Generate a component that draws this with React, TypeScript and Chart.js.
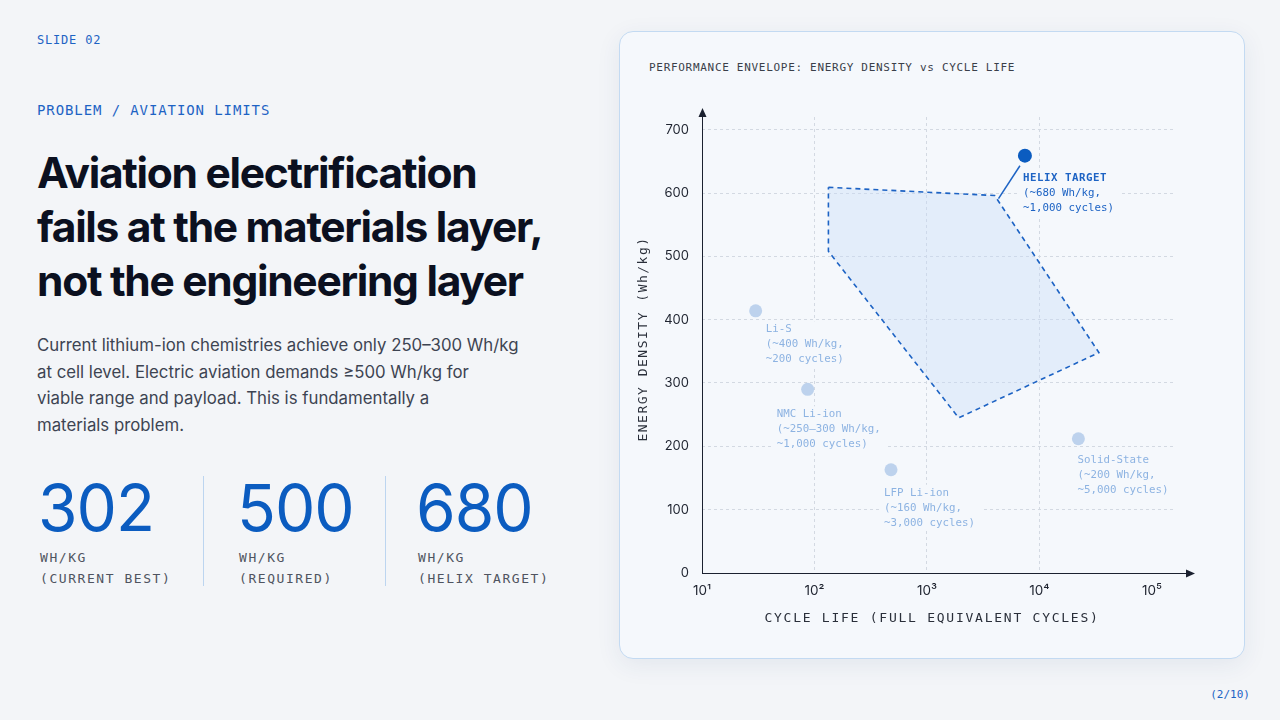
import React, { useEffect, useRef } from 'react';
import { Chart, registerables } from 'chart.js';

Chart.register(...registerables);

// ---------- data ----------
const chemistries = ['Li-S', 'NMC Li-ion', 'LFP Li-ion', 'Solid-State'];
const chemCycles = [30, 87, 479, 22200];
const chemDensity = [414, 290, 163, 212];
const chemNotes = [
  ['(~400 Wh/kg,', '~200 cycles)'],
  ['(~250–300 Wh/kg,', '~1,000 cycles)'],
  ['(~160 Wh/kg,', '~3,000 cycles)'],
  ['(~200 Wh/kg,', '~5,000 cycles)'],
];

const helixName = 'HELIX TARGET';
const helixCycles = [7430];
const helixDensity = [659];
const helixNotes = ['(~680 Wh/kg,', '~1,000 cycles)'];

const envelopeCycles = [133, 4000, 33800, 1914, 133, 133];
const envelopeDensity = [609, 596, 348, 245, 508, 609];

const leaderCycles = [6710, 4325];
const leaderDensity = [643, 591];

const xTickValues = [10, 100, 1000, 10000, 100000];
const xTickLabels = ['10¹', '10²', '10³', '10⁴', '10⁵'];
const yTickValues = [0, 100, 200, 300, 400, 500, 600, 700];

const stats = ['302', '500', '680'];
const statUnits = ['WH/KG', 'WH/KG', 'WH/KG'];
const statNotes = ['(CURRENT BEST)', '(REQUIRED)', '(HELIX TARGET)'];

const bodyLines = [
  'Current lithium-ion chemistries achieve only 250–300 Wh/kg',
  'at cell level. Electric aviation demands ≥500 Wh/kg for',
  'viable range and payload. This is fundamentally a',
  'materials problem.',
];

// ---------- styling ----------
const MONO = '"DejaVu Sans Mono", monospace';
const SANS = 'Inter, "Noto Sans", sans-serif';
const BLUE = '#0b5cc0';
const ACCENT = '#1d63c4';
const CARD_BG = '#f5f8fc';
const PAGE_BG = '#f3f5f8';
const FAINT = '#8db3e2';

// label offsets relative to each point (pixels)
const labelDx = [10, -31, -7, -1];
const labelDy = [18.5, 25, 23, 21.5];
const helixDx = -2;
const helixDy = 23;
const LINE_H = 15;

const overlayPlugin = {
  id: 'overlay',
  beforeDatasetsDraw(chart: any) {
    const ctx = chart.ctx;
    const xs = chart.scales.x;
    const ys = chart.scales.y;
    ctx.save();
    ctx.font = `10.8px ${MONO}`;
    ctx.fillStyle = CARD_BG;
    const boxes: Array<[number, number, string[]]> = [];
    chemistries.forEach((name, i) => {
      const px = xs.getPixelForValue(chemCycles[i]);
      const py = ys.getPixelForValue(chemDensity[i]);
      boxes.push([px + labelDx[i], py + labelDy[i], [name, ...chemNotes[i]]]);
    });
    const hx = xs.getPixelForValue(helixCycles[0]);
    const hy = ys.getPixelForValue(helixDensity[0]);
    boxes.push([hx + helixDx, hy + helixDy, [helixName, ...helixNotes]]);
    boxes.forEach(([x, y, lines]) => {
      const w = Math.max(...lines.map((l) => ctx.measureText(l).width));
      ctx.fillRect(x - 4, y - 8, w + 10, LINE_H * (lines.length - 1) + 16);
    });
    ctx.restore();
  },
  afterDatasetsDraw(chart: any) {
    const ctx = chart.ctx;
    const area = chart.chartArea;
    const xs = chart.scales.x;
    const ys = chart.scales.y;
    const ox = xs.getPixelForValue(10);
    const oy = ys.getPixelForValue(0);
    ctx.save();
    // axes
    ctx.strokeStyle = '#1b2130';
    ctx.fillStyle = '#1b2130';
    ctx.lineWidth = 1;
    const xEnd = area.right + 22;
    const yEnd = area.top - 9;
    ctx.beginPath();
    ctx.moveTo(ox, oy + 0.5);
    ctx.lineTo(xEnd - 6, oy + 0.5);
    ctx.moveTo(ox + 0.5, oy);
    ctx.lineTo(ox + 0.5, yEnd + 6);
    ctx.stroke();
    ctx.beginPath();
    ctx.moveTo(xEnd, oy + 0.5);
    ctx.lineTo(xEnd - 9, oy - 3.5);
    ctx.lineTo(xEnd - 9, oy + 4.5);
    ctx.closePath();
    ctx.fill();
    ctx.beginPath();
    ctx.moveTo(ox + 0.5, yEnd);
    ctx.lineTo(ox - 3.5, yEnd + 9);
    ctx.lineTo(ox + 4.5, yEnd + 9);
    ctx.closePath();
    ctx.fill();

    // point labels
    ctx.textAlign = 'left';
    ctx.textBaseline = 'middle';
    ctx.font = `10.8px ${MONO}`;
    ctx.fillStyle = FAINT;
    chemistries.forEach((name, i) => {
      const px = xs.getPixelForValue(chemCycles[i]);
      const py = ys.getPixelForValue(chemDensity[i]);
      [name, ...chemNotes[i]].forEach((line, k) => {
        ctx.fillText(line, px + labelDx[i], py + labelDy[i] + k * LINE_H);
      });
    });
    const hx = xs.getPixelForValue(helixCycles[0]);
    const hy = ys.getPixelForValue(helixDensity[0]);
    ctx.fillStyle = ACCENT;
    ctx.font = `bold 10.8px ${MONO}`;
    (ctx as any).letterSpacing = '0.5px';
    ctx.fillText(helixName, hx + helixDx, hy + helixDy);
    (ctx as any).letterSpacing = '0px';
    ctx.font = `10.8px ${MONO}`;
    helixNotes.forEach((line, k) => {
      ctx.fillText(line, hx + helixDx, hy + helixDy + (k + 1) * LINE_H);
    });

    // axis titles
    ctx.fillStyle = '#2a2f3a';
    ctx.font = `13px ${MONO}`;
    (ctx as any).letterSpacing = '1.75px';
    ctx.textAlign = 'center';
    ctx.fillText('CYCLE LIFE (FULL EQUIVALENT CYCLES)', chart.width / 2, 587);
    (ctx as any).letterSpacing = '1.5px';
    ctx.translate(24, (area.top + area.bottom) / 2 - 6);
    ctx.rotate(-Math.PI / 2);
    ctx.fillText('ENERGY DENSITY (Wh/kg)', 0, 0);
    ctx.restore();
  },
};

function ChartCard() {
  const ref = useRef<HTMLCanvasElement>(null);
  useEffect(() => {
    const canvas = ref.current;
    if (!canvas) return;
    const gridColor = '#d3d9e2';
    const chart = new Chart(canvas, {
      type: 'scatter',
      data: {
        datasets: [
          {
            label: 'Envelope',
            data: envelopeCycles.map((c, i) => ({ x: c, y: envelopeDensity[i] })),
            showLine: true,
            fill: 'shape',
            backgroundColor: 'rgba(196, 218, 246, 0.38)',
            borderColor: '#1d63c4',
            borderWidth: 1.6,
            borderDash: [5, 4],
            pointRadius: 0,
            tension: 0,
          } as any,
          {
            label: 'Leader',
            data: leaderCycles.map((c, i) => ({ x: c, y: leaderDensity[i] })),
            showLine: true,
            borderColor: '#1d63c4',
            borderWidth: 1.5,
            pointRadius: 0,
          } as any,
          {
            label: 'Chemistries',
            data: chemCycles.map((c, i) => ({ x: c, y: chemDensity[i] })),
            backgroundColor: 'rgba(170, 198, 232, 0.75)',
            borderWidth: 0,
            pointRadius: 6.5,
          },
          {
            label: 'Helix',
            data: helixCycles.map((c, i) => ({ x: c, y: helixDensity[i] })),
            backgroundColor: BLUE,
            borderWidth: 0,
            pointRadius: 7,
          },
        ],
      },
      options: {
        responsive: false,
        animation: false,
        events: [],
        layout: { padding: { left: 12, right: 71, top: 85, bottom: 55 } },
        plugins: {
          legend: { display: false },
          tooltip: { enabled: false },
        },
        scales: {
          x: {
            type: 'logarithmic',
            min: 10,
            max: 154000,
            afterBuildTicks: (scale: any) => {
              scale.ticks = xTickValues.map((v) => ({ value: v }));
            },
            afterFit: (scale: any) => {
              scale.height = 30;
            },
            ticks: {
              autoSkip: false,
              maxRotation: 0,
              padding: 10,
              color: '#1f2430',
              font: { family: 'Inter', size: 13.5 },
              callback: (v: any) => {
                const idx = xTickValues.indexOf(Number(v));
                return idx >= 0 ? xTickLabels[idx] : '';
              },
            },
            grid: {
              drawTicks: false,
              color: (c: any) =>
                c.tick && c.tick.value > 10 && c.tick.value < 100000 ? gridColor : 'transparent',
              lineWidth: 1,
            },
            border: { display: false, dash: [3, 3] },
          },
          y: {
            type: 'linear',
            min: 0,
            max: 720,
            afterBuildTicks: (scale: any) => {
              scale.ticks = yTickValues.map((v) => ({ value: v }));
            },
            afterFit: (scale: any) => {
              scale.width = 70;
            },
            ticks: {
              padding: 13,
              color: '#1f2430',
              font: { family: 'Inter', size: 13 },
            },
            grid: {
              drawTicks: false,
              color: (c: any) => (c.tick && c.tick.value > 0 ? gridColor : 'transparent'),
              lineWidth: 1,
            },
            border: { display: false, dash: [3, 3] },
          },
        },
      } as any,
      plugins: [overlayPlugin],
    });
    return () => chart.destroy();
  }, []);

  return (
    <div
      style={{
        position: 'absolute',
        left: 619,
        top: 31,
        width: 626,
        height: 628,
        boxSizing: 'border-box',
        border: '1px solid #c3daf2',
        borderRadius: 14,
        background: CARD_BG,
        boxShadow: '0 6px 24px rgba(40, 70, 120, 0.08)',
        overflow: 'hidden',
      }}
    >
      <div
        style={{
          position: 'absolute',
          left: 29,
          top: 28,
          fontFamily: MONO,
          fontSize: 11,
          letterSpacing: '0.7px',
          lineHeight: '16px',
          color: '#3a3f4a',
          whiteSpace: 'nowrap',
        }}
      >
        PERFORMANCE ENVELOPE: ENERGY DENSITY vs CYCLE LIFE
      </div>
      <canvas
        ref={ref}
        width={624}
        height={626}
        style={{ position: 'absolute', left: 0, top: 0, width: 624, height: 626 }}
      />
    </div>
  );
}

export default function App() {
  const statLeft = [40, 239, 418];
  return (
    <div
      style={{
        position: 'fixed',
        left: 0,
        top: 0,
        width: 1280,
        height: 720,
        background: PAGE_BG,
        overflow: 'hidden',
        fontFamily: SANS,
      }}
    >
      <div
        style={{
          position: 'absolute',
          left: 37,
          top: 32,
          fontFamily: MONO,
          fontSize: 12,
          letterSpacing: '0.8px',
          lineHeight: '16px',
          color: ACCENT,
        }}
      >
        SLIDE 02
      </div>
      <div
        style={{
          position: 'absolute',
          left: 37,
          top: 101,
          fontFamily: MONO,
          fontSize: 14,
          letterSpacing: '0.9px',
          lineHeight: '18px',
          color: ACCENT,
        }}
      >
        PROBLEM / AVIATION LIMITS
      </div>
      <div
        style={{
          position: 'absolute',
          left: 37,
          top: 146,
          width: 560,
          fontFamily: SANS,
          fontWeight: 700,
          fontSize: 42.5,
          lineHeight: '54px',
          letterSpacing: '-1.3px',
          color: '#0b1020',
          whiteSpace: 'nowrap',
        }}
      >
        Aviation electrification
        <br />
        fails at the materials layer,
        <br />
        not the engineering layer
      </div>
      <div
        style={{
          position: 'absolute',
          left: 37,
          top: 332,
          fontFamily: SANS,
          fontSize: 16.8,
          lineHeight: '26.7px',
          color: '#3d4452',
          whiteSpace: 'nowrap',
        }}
      >
        {bodyLines.map((l, i) => (
          <div key={i}>{l}</div>
        ))}
      </div>
      {stats.map((s, i) => (
        <div key={s} style={{ position: 'absolute', left: statLeft[i], top: 470 }}>
          <div
            style={{
              fontFamily: SANS,
              fontSize: 64,
              lineHeight: '76px',
              letterSpacing: '-1px',
              color: BLUE,
              marginLeft: -2,
            }}
          >
            {s}
          </div>
          <div
            style={{
              marginTop: 1,
              fontFamily: MONO,
              fontSize: 13,
              letterSpacing: '1.55px',
              lineHeight: '21px',
              color: '#4f5460',
              whiteSpace: 'nowrap',
            }}
          >
            {statUnits[i]}
            <br />
            {statNotes[i]}
          </div>
        </div>
      ))}
      {[203, 385].map((x) => (
        <div
          key={x}
          style={{
            position: 'absolute',
            left: x,
            top: 476,
            width: 1,
            height: 110,
            background: '#bcd5f0',
          }}
        />
      ))}
      <ChartCard />
      <div
        style={{
          position: 'absolute',
          right: 30,
          top: 688,
          fontFamily: MONO,
          fontSize: 11,
          lineHeight: '14px',
          color: ACCENT,
        }}
      >
        (2/10)
      </div>
    </div>
  );
}
